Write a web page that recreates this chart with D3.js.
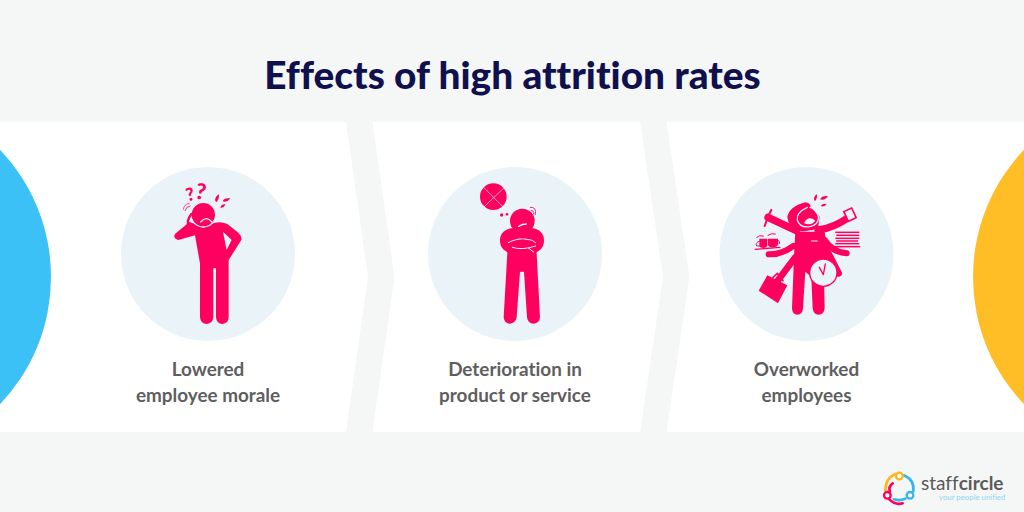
<!DOCTYPE html>
<html>
<head>
<meta charset="utf-8">
<script src="https://cdn.jsdelivr.net/npm/d3@7"></script>
<style>
  html, body { margin: 0; padding: 0; background: #f5f7f7; }
  text { font-family: Lato, sans-serif; font-variant-ligatures: none; }
</style>
</head>
<body>
<div id="chart"></div>
<script>
var titleText = "Effects of high attrition rates";
var steps = ["Lowered employee morale", "Deterioration in product or service", "Overworked employees"];
var stepLines = [["Lowered", "employee morale"], ["Deterioration in", "product or service"], ["Overworked", "employees"]];
var brandWords = ["staff", "circle"];
var brandTag = "your people unified";

var PINK = "#ff0060", BG = "#f5f7f7", DISC = "#e9f3f8", GREY = "#5e5e5e";

var svg = d3.select("#chart").append("svg")
  .attr("width", 1024).attr("height", 512)
  .style("display", "block");

svg.append("rect").attr("width", 1024).attr("height", 512).attr("fill", BG);
svg.append("rect").attr("y", 122).attr("width", 1024).attr("height", 310).attr("fill", "#fff");

// chevrons between the panels
var panelY = d3.scaleLinear().domain([0, 1]).range([122, 432]);
[[346, 372.5, 22], [640, 666.5, 23]].forEach(function(c) {
  var pts = [[c[0], 0], [c[1], 0], [c[1] + c[2], 0.5], [c[1], 1], [c[0], 1], [c[0] + c[2], 0.5]];
  svg.append("path")
    .attr("d", d3.line().x(function(d) { return d[0]; }).y(function(d) { return panelY(d[1]); })(pts) + "Z")
    .attr("fill", BG);
});

// big discs cut by the page edge
svg.append("circle").attr("cx", -133).attr("cy", 277).attr("r", 184).attr("fill", "#3bc1f6");
svg.append("circle").attr("cx", 1157).attr("cy", 277).attr("r", 184).attr("fill", "#ffbe26");

svg.append("text").text(titleText)
  .attr("x", 512.5).attr("y", 89).attr("text-anchor", "middle")
  .attr("font-size", 38.8).attr("font-weight", 900).attr("fill", "#10104f");

var x = d3.scaleOrdinal().domain(steps).range([208, 515, 806.5]);

steps.forEach(function(s, i) {
  svg.append("circle").attr("cx", x(s)).attr("cy", 254).attr("r", 87).attr("fill", DISC);
  svg.selectAll(null).data(stepLines[i]).enter().append("text")
    .text(function(d) { return d; })
    .attr("x", x(s)).attr("y", function(d, j) { return 375.5 + j * 26; })
    .attr("text-anchor", "middle")
    .attr("font-size", 18.9).attr("font-weight", 700).attr("fill", GREY);
});

// icons are drawn in 3x local units
function icon(ox, oy) {
  return svg.append("g").attr("transform", "translate(" + ox + "," + oy + ") scale(0.3333)");
}
function fillPath(g, d, col) { return g.append("path").attr("d", d).attr("fill", col || PINK); }
function line(g, d, w, col) {
  return g.append("path").attr("d", d).attr("fill", "none").attr("stroke", col || PINK)
    .attr("stroke-width", w).attr("stroke-linecap", "round").attr("stroke-linejoin", "round");
}

// confused figure
var a = icon(120, 160);
fillPath(a, "M208 186L165 222Q158 235 175 240L225 226L240 310L240 472Q242 492 260 492Q278 491 280 472L280 325L288 325L288 472Q290 492 307 492Q325 491 326 472L326 300L364 240Q367 230 355 218L322 192Q305 184 285 188L250 200Z");
fillPath(a, "M309 215L335 240L320 270Z", DISC);
a.append("circle").attr("cx", 250).attr("cy", 164).attr("r", 37).attr("fill", PINK).attr("stroke", DISC).attr("stroke-width", 4);
line(a, "M242 186Q260 166 276 186", 4, DISC);
line(a, "M214 162Q197 185 207 200", 7, PINK);
line(a, "M210 138Q198 140 195 152", 2.5);
line(a, "M208 130Q192 132 190 148", 2);
a.append("text").text("?").attr("x", 211).attr("y", 122).attr("text-anchor", "middle").attr("font-size", 54).attr("font-weight", 900).attr("fill", PINK).attr("transform", "rotate(-15 211 105)");
a.append("text").text("?").attr("x", 243).attr("y", 118).attr("text-anchor", "middle").attr("font-size", 66).attr("font-weight", 900).attr("fill", PINK).attr("transform", "rotate(10 243 95)");
fillPath(a, "M296 102Q300 115 289 127Q279 118 296 102Z");
fillPath(a, "M332 115Q322 128 308 124Q312 112 332 115Z");
fillPath(a, "M316 132Q314 142 302 144Q300 134 316 132Z");

// arms-crossed figure
var b = icon(425, 160);
b.append("circle").attr("cx", 205).attr("cy", 110).attr("r", 40).attr("fill", PINK);
line(b, "M168 74L243 150M245 76L166 151", 2, DISC);
b.append("circle").attr("cx", 230).attr("cy", 165).attr("r", 5).attr("fill", PINK);
b.append("circle").attr("cx", 246).attr("cy", 163).attr("r", 4).attr("fill", PINK);
fillPath(b, "M248 262L236 472Q238 491 255 491Q272 490 275 472L285 335L297 335L306 472Q309 491 326 491Q344 490 345 472L334 262Z");
b.append("rect").attr("x", 225).attr("y", 205).attr("width", 132).attr("height", 74).attr("rx", 36).attr("fill", PINK);
b.append("circle").attr("cx", 292).attr("cy", 183).attr("r", 37).attr("fill", PINK);
line(b, "M281 199Q292 192 304 192", 4, DISC);
line(b, "M250 248Q280 232 306 238Q322 238 332 248", 3, DISC);
line(b, "M262 262Q290 272 332 258M310 264L326 276", 3, DISC);
line(b, "M318 152Q328 150 326 162", 2.5);
line(b, "M316 142Q336 140 331 164", 2.5);

// many-armed figure
var c = icon(718, 160);
fillPath(c, "M232 215L320 215L330 290L318 350L320 445Q318 464 302 464Q286 464 284 445L280 350L262 335L255 445Q254 464 238 464Q223 464 222 445L228 290Z");
line(c, "M235 212L150 172", 22);
line(c, "M300 210Q345 205 395 170", 22);
line(c, "M226 258Q190 285 152 283", 18);
line(c, "M320 240Q345 278 386 280", 18);
line(c, "M232 292L176 366", 20);
line(c, "M322 262L362 340", 20);
line(c, "M150 170L140 198M152 165L160 150", 6);
c.append("rect").attr("x", 383).attr("y", 148).attr("width", 26).attr("height", 32).attr("transform", "rotate(-25 396 164)").attr("fill", DISC).attr("stroke", PINK).attr("stroke-width", 5);
fillPath(c, "M148 346L208 376L180 430L122 392Z");
line(c, "M165 352L178 340L195 362", 5);
// head: pink hood with a face outlined inside it
fillPath(c, "M208 172Q212 140 262 127Q276 128 278 140L305 170L300 205Q270 218 235 212Q212 200 208 172Z");
line(c, "M268 142Q234 158 238 180Q245 204 275 200Q300 196 302 172Q296 148 276 142", 4, DISC);
fillPath(c, "M258 190Q270 165 292 182Q280 198 258 190Z", DISC);
fillPath(c, "M296 102Q300 112 291 124Q283 114 296 102Z");
fillPath(c, "M330 108Q322 122 306 118Q312 106 330 108Z");
fillPath(c, "M326 132Q320 142 308 138Q314 130 326 132Z");
// clock
c.append("circle").attr("cx", 316).attr("cy", 338).attr("r", 41).attr("fill", DISC).attr("stroke", PINK).attr("stroke-width", 4);
line(c, "M304 322L316 344L322 312", 4);
// name badge
line(c, "M280 243H298", 3, DISC);
// books
c.selectAll(null).data(["M352 217H424", "M355 226H424", "M352 235H424", "M355 243H420", "M352 251H424", "M350 260H427"]).enter().append("path")
  .attr("d", function(d) { return d; }).attr("stroke", PINK).attr("stroke-width", 4.5);
// cups on a tray
fillPath(c, "M124 236H148V258Q146 264 136 264Q126 264 124 258Z");
fillPath(c, "M150 236H180V255Q176 262 165 262Q152 262 150 255Z");
line(c, "M124 244Q110 248 116 258L126 258", 3);
line(c, "M180 240Q188 246 184 252", 3);
line(c, "M112 268L186 262", 4);
line(c, "M116 232Q124 224 136 228M150 226Q160 218 172 222", 3);

// staffcircle logo
var logo = icon(870, 460);
line(logo, "M76 42Q46 55 46 92", 8, "#ffb81c");
line(logo, "M102 46Q134 60 130 94", 8, "#35b6ef");
line(logo, "M72 118Q90 124 106 116", 8, "#35b6ef");
line(logo, "M68 70Q54 80 60 96", 8, "#ff0060");
line(logo, "M58 118Q76 136 98 130", 8, "#ff0060");
logo.append("circle").attr("cx", 88).attr("cy", 48).attr("r", 10).attr("fill", "#fff").attr("stroke", "#ffb81c").attr("stroke-width", 7);
logo.append("circle").attr("cx", 52).attr("cy", 106).attr("r", 10).attr("fill", "#fff").attr("stroke", "#ff0060").attr("stroke-width", 7);
logo.append("circle").attr("cx", 120).attr("cy", 106).attr("r", 10).attr("fill", "#fff").attr("stroke", "#35b6ef").attr("stroke-width", 7);

var brand = svg.append("text").attr("x", 921).attr("y", 489.5).attr("font-size", 19).attr("fill", "#5a5a5a");
brand.append("tspan").text(brandWords[0]).attr("font-weight", 400);
brand.append("tspan").text(brandWords[1]).attr("font-weight", 700);
svg.append("text").text(brandTag).attr("x", 939).attr("y", 500).attr("font-size", 7.8).attr("fill", "#8fd6f5");
</script>
</body>
</html>
